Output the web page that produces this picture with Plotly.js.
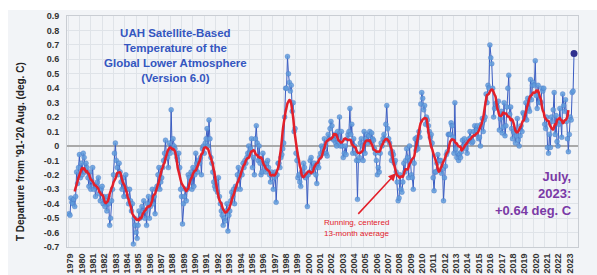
<!DOCTYPE html>
<html><head><meta charset="utf-8">
<script src="https://cdn.plot.ly/plotly-3.0.1.min.js"></script>
<style>html,body{margin:0;padding:0;background:#fff}#chart{width:597px;height:275px}</style>
</head><body><div id="chart"></div>
<script>
const startYear = 1979;
const yearLabels = ['1979','1980','1981','1982','1983','1984','1985','1986','1987','1988','1989','1990','1991','1992','1993','1994','1995','1996','1997','1998','1999','2000','2001','2002','2003','2004','2005','2006','2007','2008','2009','2010','2011','2012','2013','2014','2015','2016','2017','2018','2019','2020','2021','2022','2023'];
const yTickValues = [-0.7,-0.6,-0.5,-0.4,-0.3,-0.2,-0.1,0,0.1,0.2,0.3,0.4,0.5,0.6,0.7,0.8,0.9];
const yTickLabels = ['-0.7','-0.6','-0.5','-0.4','-0.3','-0.2','-0.1','0','0.1','0.2','0.3','0.4','0.5','0.6','0.7','0.8','0.9'];

// Monthly anomalies (deg C), Jan 1979 onward
const anom1979_1988 = [
 -0.47,-0.48,-0.36,-0.39,-0.40,-0.37,-0.42,-0.35,-0.18,-0.26,-0.15,-0.06,
 -0.22,-0.12,-0.20,-0.05,-0.08,-0.18,-0.12,-0.15,-0.22,-0.28,-0.18,-0.30,
 -0.24,-0.15,-0.30,-0.27,-0.35,-0.28,-0.25,-0.22,-0.33,-0.38,-0.30,-0.28,
 -0.40,-0.35,-0.42,-0.38,-0.45,-0.35,-0.40,-0.55,-0.50,-0.38,-0.30,-0.20,
 -0.05,0.02,-0.10,-0.15,-0.20,-0.12,-0.18,-0.25,-0.30,-0.22,-0.35,-0.28,
 -0.20,-0.30,-0.35,-0.40,-0.30,-0.38,-0.45,-0.40,-0.68,-0.50,-0.55,-0.60,
 -0.64,-0.55,-0.45,-0.50,-0.48,-0.42,-0.45,-0.38,-0.50,-0.45,-0.55,-0.40,
 -0.35,-0.50,-0.42,-0.38,-0.30,-0.40,-0.35,-0.47,-0.30,-0.28,-0.20,-0.15,
 -0.30,-0.25,-0.22,-0.15,-0.10,-0.05,0.04,-0.08,-0.08,-0.15,0.02,-0.05,
 0.25,-0.02,0.05,0.00,-0.02,-0.05,-0.08,-0.10,-0.05,-0.15,-0.30,-0.35];
const anom1989_1998 = [
 -0.54,-0.40,-0.35,-0.30,-0.38,-0.30,-0.20,-0.22,-0.25,-0.18,-0.30,-0.15,
 -0.28,-0.20,-0.05,-0.12,-0.18,-0.10,-0.12,-0.08,-0.20,-0.02,0.00,-0.05,
 0.02,0.05,0.12,0.00,0.18,0.05,-0.08,-0.12,-0.18,-0.25,-0.28,-0.30,
 -0.25,-0.32,-0.22,-0.35,-0.40,-0.45,-0.48,-0.55,-0.50,-0.52,-0.45,-0.40,
 -0.59,-0.48,-0.45,-0.38,-0.32,-0.35,-0.30,-0.40,-0.28,-0.30,-0.20,-0.15,
 -0.22,-0.30,-0.18,-0.20,-0.12,-0.15,-0.10,-0.12,-0.08,-0.05,0.00,-0.05,
 -0.02,0.05,-0.15,-0.08,-0.20,0.05,0.14,0.02,-0.10,0.00,-0.12,-0.20,
 -0.18,-0.05,-0.12,-0.15,-0.18,-0.12,-0.10,-0.15,-0.20,-0.25,-0.18,-0.20,
 -0.30,-0.22,-0.18,-0.39,-0.20,-0.12,-0.12,-0.15,-0.08,-0.06,-0.02,0.02,
 0.20,0.40,0.40,0.62,0.50,0.44,0.38,0.42,0.24,0.30,0.10,0.12];
const anom1999_2008 = [
 -0.05,-0.10,-0.22,-0.20,-0.25,-0.28,-0.18,-0.20,-0.12,-0.15,-0.22,-0.20,
 -0.42,-0.20,-0.18,-0.10,-0.08,-0.18,-0.15,-0.12,-0.15,-0.20,-0.26,-0.12,
 -0.15,-0.08,-0.05,0.00,-0.02,-0.05,0.05,0.00,-0.05,-0.07,0.08,0.05,
 0.12,0.17,0.14,0.05,0.04,0.08,0.02,0.00,0.10,0.03,0.20,0.00,
 0.10,0.00,-0.08,-0.05,0.00,-0.06,0.05,0.08,0.10,0.26,0.08,0.15,
 -0.05,0.05,0.00,-0.05,-0.10,-0.37,-0.10,-0.08,0.02,0.05,0.00,-0.10,
 0.10,-0.05,0.05,0.08,0.02,0.07,0.10,0.03,0.09,0.05,0.04,-0.02,
 -0.05,-0.10,-0.20,-0.15,-0.18,-0.05,0.02,0.00,0.05,0.08,0.04,0.15,
 0.28,0.12,0.05,0.02,-0.05,-0.10,-0.04,-0.06,-0.12,-0.10,-0.18,-0.25,
 -0.38,-0.36,-0.20,-0.30,-0.32,-0.25,-0.12,-0.18,-0.10,-0.02,-0.08,-0.22];
const anom2009_2018 = [
 0.00,-0.10,-0.20,-0.22,-0.30,-0.12,0.05,-0.03,0.06,-0.02,0.10,0.06,
 0.29,0.37,0.33,0.25,0.28,0.15,0.20,0.18,0.14,0.10,0.06,0.08,
 0.02,-0.22,-0.31,-0.18,-0.18,-0.12,-0.06,-0.10,-0.10,-0.10,-0.19,-0.16,
 -0.38,-0.22,-0.14,-0.06,-0.04,0.08,0.08,0.08,0.16,0.14,0.06,-0.05,
 0.30,-0.02,-0.08,-0.05,-0.10,-0.06,-0.08,-0.04,0.04,0.00,0.05,0.01,
 -0.02,-0.05,0.03,0.05,0.10,0.06,0.02,0.03,0.10,0.14,0.08,0.11,
 0.14,0.05,0.06,0.00,0.15,0.19,0.10,0.18,0.20,0.36,0.30,0.42,
 0.40,0.70,0.61,0.57,0.40,0.20,0.26,0.29,0.30,0.27,0.31,0.11,
 0.19,0.24,0.09,0.13,0.30,0.07,0.14,0.27,0.40,0.49,0.22,0.27,
 0.12,0.05,0.10,0.09,0.02,0.07,0.19,0.04,0.00,0.07,0.14,0.10];
const anom2019_2023 = [
 0.23,0.22,0.19,0.30,0.18,0.33,0.26,0.24,0.46,0.32,0.42,0.44,
 0.42,0.59,0.35,0.26,0.42,0.30,0.31,0.30,0.40,0.38,0.40,0.15,
 0.12,0.20,-0.01,-0.05,0.08,-0.01,0.20,0.17,0.25,0.37,0.08,0.21,
 0.03,-0.00,0.15,0.26,0.17,0.06,0.36,0.28,0.24,0.32,0.17,0.05,
 -0.04,0.08,0.20,0.18,0.37,0.38,0.64];

const anomalies = [].concat(anom1979_1988, anom1989_1998, anom1999_2008, anom2009_2018, anom2019_2023);
const times = anomalies.map((v, i) => startYear + i / 12);

// centered 13-month running average
const runT = [], runV = [];
for (let i = 6; i < anomalies.length - 6; i++) {
  let s = 0;
  for (let k = i - 6; k <= i + 6; k++) s += anomalies[k];
  runT.push(times[i]); runV.push(s / 13);
}
const last = anomalies.length - 1;

const traces = [
  {x: times, y: anomalies, type: 'scatter', mode: 'lines+markers',
   line: {color: '#3a5cc2', width: 1},
   marker: {color: 'rgba(95,155,218,0.85)', size: 5, line: {color: 'rgba(60,100,190,0.5)', width: 0.5}},
   hoverinfo: 'skip', showlegend: false},
  {x: runT, y: runV, type: 'scatter', mode: 'lines',
   line: {color: '#e3202a', width: 2.5, shape: 'spline', smoothing: 0.8},
   hoverinfo: 'skip', showlegend: false},
  {x: [times[last]], y: [anomalies[last]], type: 'scatter', mode: 'markers',
   marker: {color: '#30308e', size: 7}, showlegend: false, hoverinfo: 'skip'}
];

const layout = {
  width: 597, height: 275,
  margin: {l: 67, r: 19, t: 16, b: 28},
  paper_bgcolor: '#ffffff',
  plot_bgcolor: '#fafbfc',
  font: {family: 'Liberation Sans, Arial, sans-serif', color: '#333'},
  xaxis: {
    range: [1978.82, 2023.85],
    tickmode: 'array',
    tickvals: yearLabels.map(y => Number(y) + 0.12),
    ticktext: yearLabels,
    tickangle: -90,
    tickfont: {size: 9, color: '#333', weight: 'bold'},
    showgrid: false, zeroline: false,
    ticks: '', ticklabelstandoff: 2,
    showline: true, mirror: true, linecolor: '#c9cdd3', linewidth: 1,
    minor: {tickmode: 'linear', tick0: 1979.92, dtick: 1, showgrid: true, gridcolor: '#dfe3e8', gridwidth: 1, ticks: ''}
  },
  yaxis: {
    range: [-0.7, 0.9],
    tickmode: 'array', tickvals: yTickValues, ticktext: yTickLabels,
    tickfont: {size: 9, color: '#333', weight: 'bold'},
    gridcolor: '#dfe3e8', gridwidth: 1,
    zeroline: true, zerolinecolor: '#a9a9a9', zerolinewidth: 1.5,
    ticks: '', ticklabelstandoff: 5,
    showline: true, mirror: true, linecolor: '#c9cdd3', linewidth: 1
  },
  shapes: [
    {type: 'rect', xref: 'paper', yref: 'paper', x0: -0.1155, x1: 1.04, y0: -0.125, y1: 1.026,
     fillcolor: '#f2f4f7', line: {width: 0}, layer: 'below'}
  ],
  annotations: [
    {xref: 'paper', yref: 'paper', x: -0.092, y: 0.415, xanchor: 'center', yanchor: 'middle', textangle: -90, showarrow: false,
     text: "T Departure from '91-'20 Aug. (deg. C)",
     font: {size: 10, color: '#222', weight: 'bold'}},
    {xref: 'paper', yref: 'paper', x: 0.213, y: 0.96, xanchor: 'center', yanchor: 'top', showarrow: false, align: 'center',
     text: 'UAH Satellite-Based<br>Temperature of the<br>Global Lower Atmosphere<br>(Version 6.0)',
     font: {size: 11.5, color: '#3456c0', weight: 'bold'}},
    {xref: 'paper', yref: 'paper', x: 0.992, y: 0.346, xanchor: 'right', yanchor: 'top', showarrow: false, align: 'right',
     text: 'July,<br>2023:<br>+0.64 deg. C',
     font: {size: 13, color: '#7a3aa6', weight: 'bold'}},
    {xref: 'paper', yref: 'paper', x: 0.567, y: 0.108, xanchor: 'center', yanchor: 'middle', showarrow: false,
     text: 'Running, centered', font: {size: 8, color: '#e3202a'}},
    {xref: 'paper', yref: 'paper', x: 0.567, y: 0.06, xanchor: 'center', yanchor: 'middle', showarrow: false,
     text: '13-month average', font: {size: 8, color: '#e3202a'}},
    {x: 2007.8, y: -0.19, xref: 'x', yref: 'y', text: '', showarrow: true,
     ax: -39, ay: 42, arrowcolor: '#e3202a', arrowwidth: 1.5, arrowhead: 2, arrowsize: 1}
  ]
};

Plotly.newPlot('chart', traces, layout, {staticPlot: true, displayModeBar: false});
</script>
</body></html>
